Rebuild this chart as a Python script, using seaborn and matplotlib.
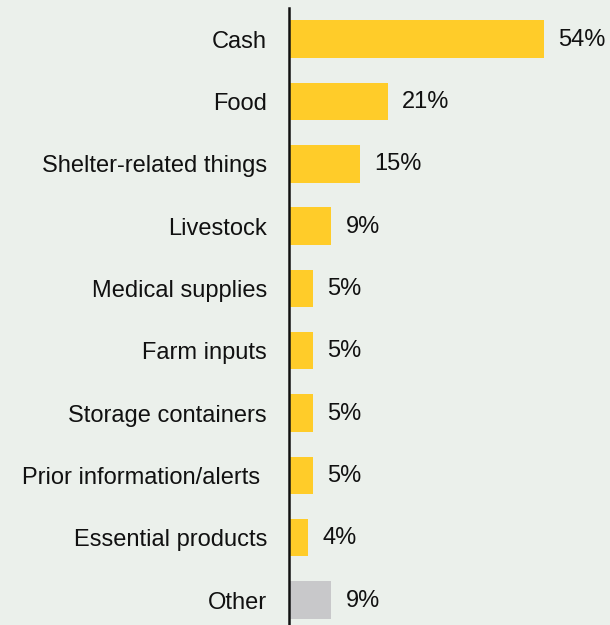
import matplotlib
matplotlib.use("Agg")
import matplotlib.pyplot as plt
from matplotlib import font_manager
import seaborn as sns
import pandas as pd

categories = ["Cash", "Food", "Shelter-related things", "Livestock", "Medical supplies",
              "Farm inputs", "Storage containers", "Prior information/alerts ",
              "Essential products", "Other"]
values = [54, 21, 15, 9, 5, 5, 5, 5, 4, 9]
groups = ["main"] * 9 + ["other"]

BG = "#EBF0EB"
palette = {"main": "#FFCC29", "other": "#C8C8CA"}
FS = 17

sns.set_theme(style="white")
plt.rcParams["font.family"] = ["Liberation Sans", "DejaVu Sans"]
fp = font_manager.FontProperties(family=["Liberation Sans", "DejaVu Sans"], size=FS)

df = pd.DataFrame({"category": categories, "value": values, "group": groups})

fig = plt.figure(figsize=(6.1, 6.25), dpi=100, facecolor=BG)
ax = fig.add_axes([289 / 610, 0.0, 1 - 289 / 610, 1 - 8 / 625])
ax.set_facecolor(BG)

sns.barplot(data=df, x="value", y="category", hue="group", palette=palette,
            dodge=False, legend=False, width=0.6, saturation=1, linewidth=0,
            ax=ax, order=categories)

for i, v in enumerate(values):
    ax.text(v + 3.0, i + 0.01, f"{v}%", va="center", ha="left", fontproperties=fp,
            color="#111111")

ax.set_xlim(0, 68)
ax.set_ylim(9.40, -0.5)
ax.set_xlabel("")
ax.set_ylabel("")
ax.set_xticks([])
ax.tick_params(axis="y", length=0, pad=15.8, labelcolor="#111111")
for lbl in ax.get_yticklabels():
    lbl.set_fontproperties(fp)
for side in ["top", "right", "bottom"]:
    ax.spines[side].set_visible(False)
ax.spines["left"].set_color("#111111")
ax.spines["left"].set_linewidth(1.8)

fig.savefig("out.png", dpi=100, facecolor=BG)
